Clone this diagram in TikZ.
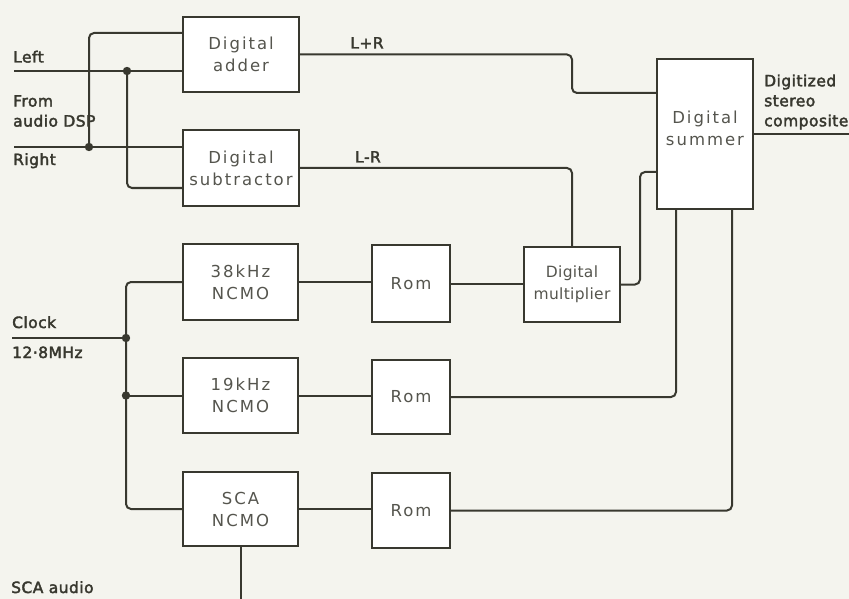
\documentclass[tikz,border=0pt]{standalone}
\usepackage{fontspec}
\setmainfont{DejaVu Sans}
\newfontfamily\boxfont[LetterSpace=12]{DejaVu Sans}
\newfontfamily\boxtight[LetterSpace=2]{DejaVu Sans}
\newfontfamily\lblfont[FakeBold=2.5,LetterSpace=3]{DejaVu Sans}
\usepackage{xcolor}
\usepackage{tikz}
\definecolor{ink}{HTML}{38382F}
\definecolor{paper}{HTML}{F4F4EE}
\definecolor{boxtxt}{HTML}{55554E}
\tikzset{
  blk/.style={draw=ink,line width=2pt,fill=white,align=center,inner sep=0pt,font=\boxfont\fontsize{16.5}{22}\selectfont,text=boxtxt},
  wr/.style={draw=ink,line width=2pt,rounded corners=5pt},
  lbl/.style={font=\lblfont\fontsize{15.5}{20}\selectfont,text=ink,inner sep=0pt,align=left}
}
\newcommand{\jdot}[1]{\fill[ink] (#1) circle (4.2pt);}

\begin{document}
\begin{tikzpicture}[x=1pt,y=-1pt]
\useasboundingbox[fill=paper] (0,0) rectangle (849,599);
\node[blk,minimum width=116pt,minimum height=75pt] (add) at (241,54.5) {Digital\\adder};
\node[blk,minimum width=116pt,minimum height=76pt] (sub) at (241,168) {Digital\\subtractor};
\node[blk,minimum width=96pt,minimum height=150pt] (sum) at (705,134) {Digital\\summer\\[-10pt]};
\node[blk,minimum width=96pt,minimum height=75pt,font=\boxtight\fontsize{15.5}{22}\selectfont] (mul) at (572,284.5) {Digital\\multiplier};
\node[blk,minimum width=115pt,minimum height=76pt] (n38) at (240.5,282) {38kHz\\NCMO};
\node[blk,minimum width=115pt,minimum height=75pt] (n19) at (240.5,395.5) {19kHz\\NCMO};
\node[blk,minimum width=115pt,minimum height=74pt] (nsca) at (240.5,509) {SCA\\NCMO};
\node[blk,minimum width=78pt,minimum height=77pt] (r1) at (411,283.5) {Rom};
\node[blk,minimum width=78pt,minimum height=74pt] (r2) at (411,397) {Rom};
\node[blk,minimum width=78pt,minimum height=75pt] (r3) at (411,510.5) {Rom};

\coordinate (inL) at (14,71); \coordinate (jL) at (127,71);
\coordinate (inR) at (14,147); \coordinate (jR) at (89,147);
\coordinate (inC) at (12,338); \coordinate (jC1) at (126,338);
\coordinate (jC2) at (jC1 |- n19.west);
\coordinate (out) at (849,134);
\coordinate (scaIn) at (nsca.south |- 0,600);

\node[lbl,anchor=base west] (tL) at (13,62.5) {Left};
\node[lbl,anchor=west] (tF) at (13,111) {From\\audio DSP};
\node[lbl,anchor=base west] (tR) at (13,165) {Right};
\node[lbl,anchor=base] (tLR1) at (367,48.5) {L+R};
\node[lbl,anchor=base] (tLR2) at (368,162.5) {L-R};
\node[lbl,anchor=west] (tD) at (764,102) {Digitized\\stereo\\composite};
\node[lbl,anchor=base west] (tC) at (12,328) {Clock};
\node[lbl,anchor=base west] (tM) at (12,358) {12·8MHz};
\node[lbl,anchor=base west] (tS) at (11,593) {SCA audio};

\draw[wr] (inL) -- (add.west |- inL);
\draw[wr] (inR) -- (sub.west |- inR);
\draw[wr] (jR) |- (add.west |- 0,33);
\draw[wr] (jL) |- (sub.west |- 0,188);
\draw[wr] (add.east) -| (572,74) |- (sum.west |- 0,93);
\draw[wr] (sub.east) -| (mul.north);
\draw[wr] (mul.east) -| (640,230) |- (sum.west |- 0,172);
\draw[wr] (sum.east) -- (out);
\draw[wr] (n38.east) -- (r1.west |- n38.east);
\draw[wr] (n19.east) -- (r2.west |- n19.east);
\draw[wr] (nsca.east) -- (r3.west |- nsca.east);
\draw[wr] (r1.east) -- (mul.west |- r1.east);
\draw[wr] (r2.east) -| (sum.south -| 676,0);
\draw[wr] (r3.east) -| (sum.south -| 732,0);
\draw[wr] (inC) -- (jC1);
\draw[wr] (n38.west) -| (jC1) |- (nsca.west);
\draw[wr] (jC2) -- (n19.west);
\draw[wr] (nsca.south) -- (scaIn);
\jdot{jL} \jdot{jR} \jdot{jC1} \jdot{jC2}
\end{tikzpicture}
\end{document}
